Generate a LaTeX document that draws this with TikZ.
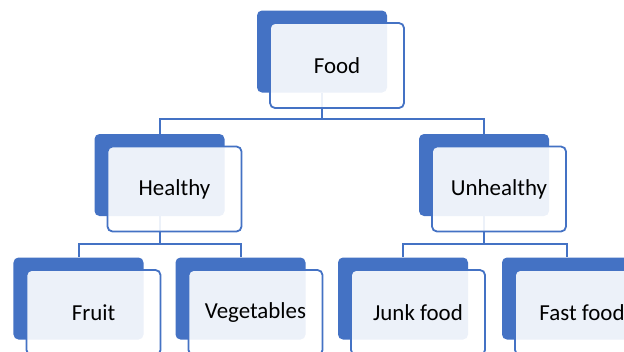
\documentclass[tikz,border=0pt]{standalone}
\usepackage{fontspec}
\setmainfont{Carlito}
\usetikzlibrary{calc,backgrounds}

\definecolor{boxblue}{HTML}{4472C4}

\begin{document}
\begin{tikzpicture}[x=1bp,y=-1bp,
  backbox/.style={rectangle,rounded corners=5bp,fill=boxblue,inner sep=0pt,minimum width=130bp,minimum height=82bp},
  frontbox/.style={rectangle,rounded corners=5bp,draw=boxblue,line width=1.8bp,fill=white,fill opacity=0.9,text opacity=1,inner sep=0pt,minimum width=134bp,minimum height=85bp,shift={(15,14)},font=\fontsize{23}{27}\selectfont},
  link/.style={draw=boxblue,line width=2bp}
]

\clip (0,0) rectangle (624,351);

% top level
\node[backbox] (food-b) at (322,51.5) {};
\node[frontbox] (food) at (food-b) {Food};

% second level
\node[backbox] (healthy-b) at (159.5,175) {};
\node[frontbox] (healthy) at (healthy-b) {Healthy};
\node[backbox] (unhealthy-b) at (484,175) {};
\node[frontbox] (unhealthy) at (unhealthy-b) {Unhealthy};

% leaves
\node[backbox] (fruit-b) at (78.5,298.5) {};
\node[frontbox] (fruit) at (fruit-b) {Fruit};
\node[backbox] (veg-b) at (240.5,298.5) {};
\node[frontbox] (veg) at (veg-b) {Vegetables};
\node[backbox] (junk-b) at (403,298.5) {};
\node[frontbox] (junk) at (junk-b) {Junk food};
\node[backbox] (fast-b) at (567,298.5) {};
\node[frontbox] (fast) at (fast-b) {Fast food};

\begin{scope}[on background layer]
\coordinate (food-j) at ($(food-b.south)+(0,26)$);
\coordinate (healthy-j) at ($(healthy-b.south)+(0,28)$);
\coordinate (unhealthy-j) at ($(unhealthy-b.south)+(0,28)$);

\draw[link] (food-b.south) -- (food-j) -| (healthy-b.north);
\draw[link] (food-j) -| (unhealthy-b.north);

\draw[link] (healthy-b.south) -- (healthy-j) -| (fruit-b.north);
\draw[link] (healthy-j) -| (veg-b.north);

\draw[link] (unhealthy-b.south) -- (unhealthy-j) -| (junk-b.north);
\draw[link] (unhealthy-j) -| (fast-b.north);
\end{scope}

\end{tikzpicture}
\end{document}
